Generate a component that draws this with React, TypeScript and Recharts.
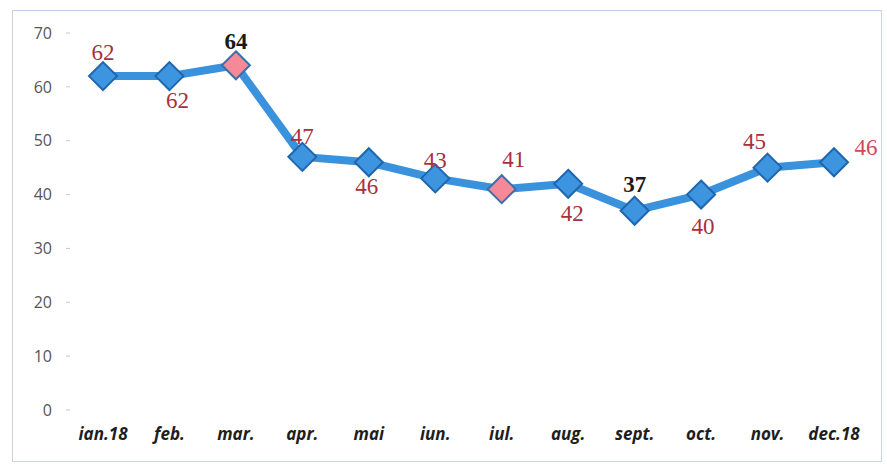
import React from "react";
import { LineChart, Line, XAxis, YAxis, LabelList } from "recharts";

const months = ["ian.18", "feb.", "mar.", "apr.", "mai", "iun.", "iul.", "aug.", "sept.", "oct.", "nov.", "dec.18"];
const values = [62, 62, 64, 47, 46, 43, 41, 42, 37, 40, 45, 46];
const yTicks = [0, 10, 20, 30, 40, 50, 60, 70];

// style only: which points are pink / bold, and where each value label sits
const pinkPoints = [2, 6];
const boldLabels = [2, 8];
const labelOffsets: Array<[number, number]> = [
  [0, -24], [8, 24], [0, -24], [0, -20], [-2, 24], [0, -18],
  [12, -30], [4, 30], [0, -26], [2, 32], [-13, -26], [32, -15],
];

const data = months.map((m, i) => ({ month: m, value: values[i] }));

function Diamond(props: any) {
  const { cx, cy, index } = props;
  if (cx == null || cy == null) return null;
  const r = 14;
  const pink = pinkPoints.includes(index);
  return (
    <polygon
      key={`d-${index}`}
      points={`${cx},${cy - r} ${cx + r},${cy} ${cx},${cy + r} ${cx - r},${cy}`}
      fill={pink ? "#f48a98" : "#3d95e0"}
      stroke={pink ? "#3a6fa8" : "#1f66ad"}
      strokeWidth={2}
    />
  );
}

function ValueLabel(props: any) {
  const { x, y, value, index } = props;
  const [dx, dy] = labelOffsets[index];
  const bold = boldLabels.includes(index);
  return (
    <text
      x={x + dx}
      y={y + dy}
      textAnchor="middle"
      dominantBaseline="central"
      fontFamily="'Liberation Serif', 'DejaVu Serif', serif"
      fontSize={23}
      fontWeight={bold ? 700 : 400}
      fill={bold ? "#1a1a1a" : index === 11 ? "#d0485a" : "#a8303e"}
    >
      {value}
    </text>
  );
}

export default function App() {
  return (
    <div style={{ position: "absolute", left: 0, top: 0, width: 887, height: 464, background: "#fff" }}>
      <div
        style={{
          position: "absolute",
          left: 12,
          top: 10,
          width: 868,
          height: 450,
          border: "1px solid #ccd6e2",
          borderTopColor: "#b8cde6",
        }}
      />
      <LineChart width={887} height={464} data={data} margin={{ top: 33, right: 20, bottom: 0, left: 0 }}>
        <XAxis
          dataKey="month"
          axisLine={false}
          tickLine={false}
          height={54}
          tickMargin={12}
          interval={0}
          padding={{ left: 33, right: 33 }}
          tick={{ fontFamily: "'Open Sans', Lato, sans-serif", fontSize: 17, fontStyle: "italic", fontWeight: 700, fill: "#1e1e1e" }}
        />
        <YAxis
          domain={[0, 70]}
          ticks={yTicks}
          axisLine={false}
          tickLine={{ stroke: "#c8c8c8" }}
          tickSize={4}
          tickMargin={14}
          width={70}
          tick={{ fontFamily: "'Open Sans', 'Liberation Sans', sans-serif", fontSize: 16, fill: "#555" }}
        />
        <Line
          dataKey="value"
          stroke="#3a92dc"
          strokeWidth={8}
          strokeLinejoin="round"
          dot={<Diamond />}
          activeDot={false}
          isAnimationActive={false}
        >
          <LabelList dataKey="value" content={<ValueLabel />} />
        </Line>
      </LineChart>
    </div>
  );
}
